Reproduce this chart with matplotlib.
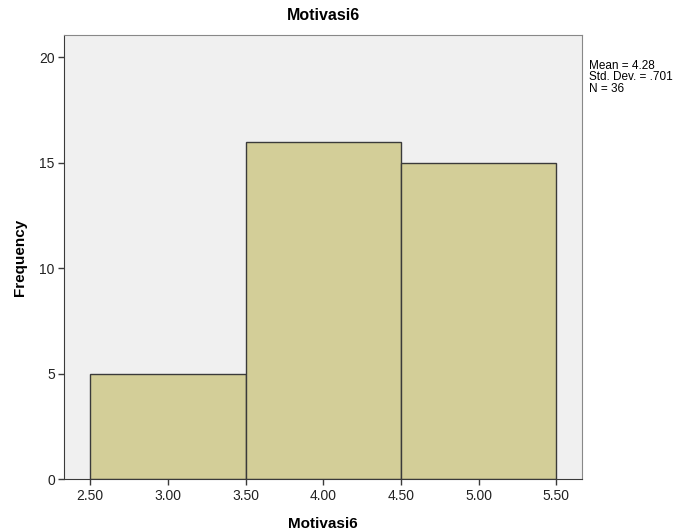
import matplotlib
matplotlib.use('Agg')
import matplotlib.pyplot as plt

plt.rcParams['font.family'] = ['Liberation Sans', 'DejaVu Sans']

# histogram data (SPSS output)
bin_edges = [2.5, 3.5, 4.5, 5.5]
counts = [5, 16, 15]
xticks = [2.5, 3.0, 3.5, 4.0, 4.5, 5.0, 5.5]
yticks = [0, 5, 10, 15, 20]

fig = plt.figure(figsize=(6.86, 5.32), dpi=100)
ax = fig.add_axes([0.094, 0.0996, 0.754, 0.8346])
ax.set_facecolor('#f0f0f0')

lefts = bin_edges[:-1]
widths = [bin_edges[i + 1] - bin_edges[i] for i in range(len(counts))]
ax.bar(lefts, counts, width=widths, align='edge', color='#d3ce98',
       edgecolor='#3a3a3a', linewidth=1.0)

ax.set_xlim(2.334, 5.663)
ax.set_ylim(0, 21.05)
ax.set_xticks(xticks)
ax.set_xticklabels(['%.2f' % v for v in xticks])
ax.set_yticks(yticks)
ax.tick_params(direction='out', length=4, width=1, color='#3a3a3a',
               labelsize=10, labelcolor='#222222', pad=3)

for s in ['left', 'bottom']:
    ax.spines[s].set_color('#3a3a3a')
for s in ['top', 'right']:
    ax.spines[s].set_color('#888888')

ax.set_title('Motivasi6', fontsize=11.5, fontweight='bold', pad=11)
ax.set_xlabel('Motivasi6', fontsize=11, fontweight='bold', labelpad=10)
ax.set_ylabel('Frequency', fontsize=11, fontweight='bold', labelpad=9)

fig.text(0.859, 0.888, 'Mean = 4.28\nStd. Dev. = .701\nN = 36',
         fontsize=8.5, va='top', ha='left', linespacing=0.95)

fig.savefig('out.png', dpi=100)
